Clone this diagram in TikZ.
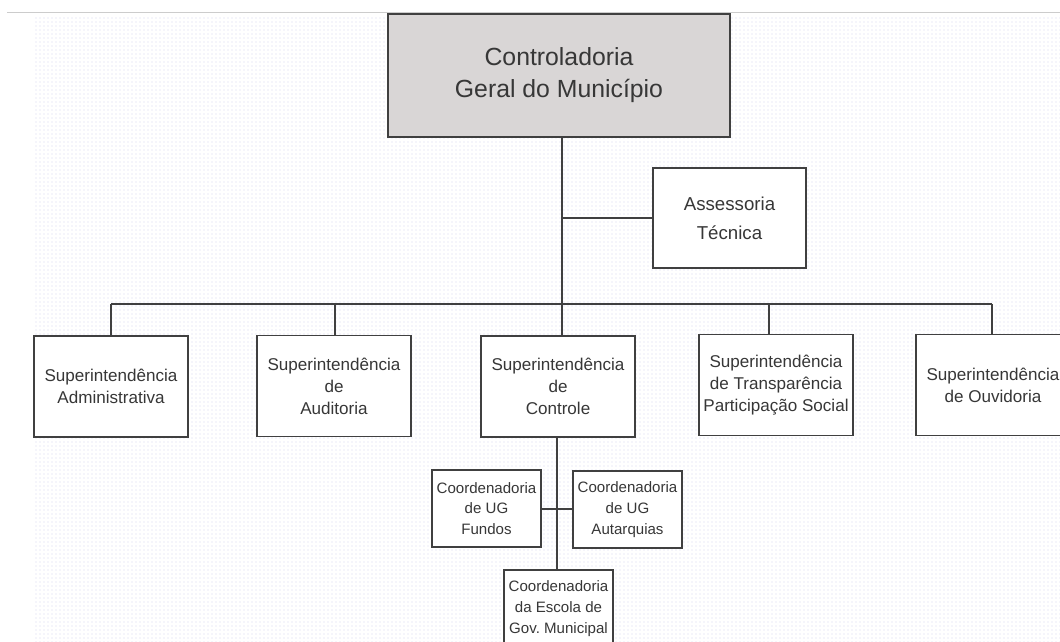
\documentclass[tikz,border=0pt]{standalone}
\usepackage{fontspec}
\setmainfont{Liberation Sans}
\usetikzlibrary{patterns}
\definecolor{linegray}{RGB}{64,64,64}
\definecolor{textgray}{RGB}{55,55,55}
\definecolor{topgray}{RGB}{217,214,214}
\definecolor{dotgray}{RGB}{215,215,240}
\tikzset{
    boxtop/.style = {rectangle, draw=linegray, line width=1.3pt, align=center, fill=topgray, font=\fontsize{18.6}{24}\selectfont, text=textgray, minimum width=256.5pt, minimum height=92.25pt, inner sep=0pt},
    boxass/.style = {rectangle, draw=linegray, line width=1.3pt, align=center, fill=white, font=\fontsize{14}{22}\selectfont, text=textgray, minimum width=114.75pt, minimum height=75pt, inner sep=0pt},
    boxsup/.style = {rectangle, draw=linegray, line width=1.3pt, align=center, fill=white, font=\fontsize{12.8}{16.5}\selectfont, text=textgray, minimum width=115.5pt, minimum height=75.75pt, inner sep=0pt},
    boxcoord/.style = {rectangle, draw=linegray, line width=1.3pt, align=center, fill=white, font=\fontsize{11.3}{15.5}\selectfont, text=textgray, minimum width=81.75pt, minimum height=57.75pt, inner sep=0pt},
    edgen/.style = {-, line width=1.3pt, linegray},
}

\begin{document}
\begin{tikzpicture}[x=0.75pt, y=-0.75pt]
  \useasboundingbox (0,0) rectangle (1060,642);
  % background
  \fill[white] (0,0) rectangle (1060,642);
  \fill[pattern=dots, pattern color=dotgray] (33,17) rectangle (1060,642);
  \draw[gray!40, line width=0.75pt] (7,13) -- (1060,13);

  \node[boxtop] (cgm) at (559,75.5) {Controladoria\\Geral do Município};
  \node[boxass] (ass) at (729.5,218) {Assessoria\\Técnica};

  \node[boxsup] (adm) at (111,386.5) {Superintendência\\Administrativa};
  \node[boxsup] (aud) at (334,386) {Superintendência\\de\\Auditoria};
  \node[boxsup] (con) at (558,386.5) {Superintendência\\de\\Controle};
  \node[boxsup] (tra) at (776,385) {Superintendência\\de Transparência\\Participação Social};
  \node[boxsup] (ouv) at (993,385) {Superintendência\\de Ouvidoria};

  \node[boxcoord] (fun) at (486.5,508.5) {Coordenadoria\\de UG\\Fundos};
  \node[boxcoord] (aut) at (627.5,509.5) {Coordenadoria\\de UG\\Autarquias};
  \node[boxcoord] (esc) at (558.5,608.5) {Coordenadoria\\da Escola de\\Gov.\ Municipal};

  % joints on the bus
  \coordinate (top) at (562,137);
  \coordinate (jass) at (562,218);
  \coordinate (jadm) at (111,304);
  \coordinate (jaud) at (335,304);
  \coordinate (jcon) at (562,304);
  \coordinate (jtra) at (769,304);
  \coordinate (jouv) at (992,304);
  \coordinate (csub) at (557,437);
  \coordinate (jsub) at (557,509);

  \draw[edgen] (top) -- (jcon);
  \draw[edgen] (jass) -- (ass.west);
  \draw[edgen] (jadm) -- (jouv);
  \foreach \j/\b in {jadm/adm, jaud/aud, jcon/con, jtra/tra, jouv/ouv}
    \draw[edgen] (\j) -- (\j |- \b.north);
  \draw[edgen] (csub) -- (csub |- esc.north);
  \draw[edgen] (fun.east |- jsub) -- (aut.west |- jsub);
\end{tikzpicture}
\end{document}
